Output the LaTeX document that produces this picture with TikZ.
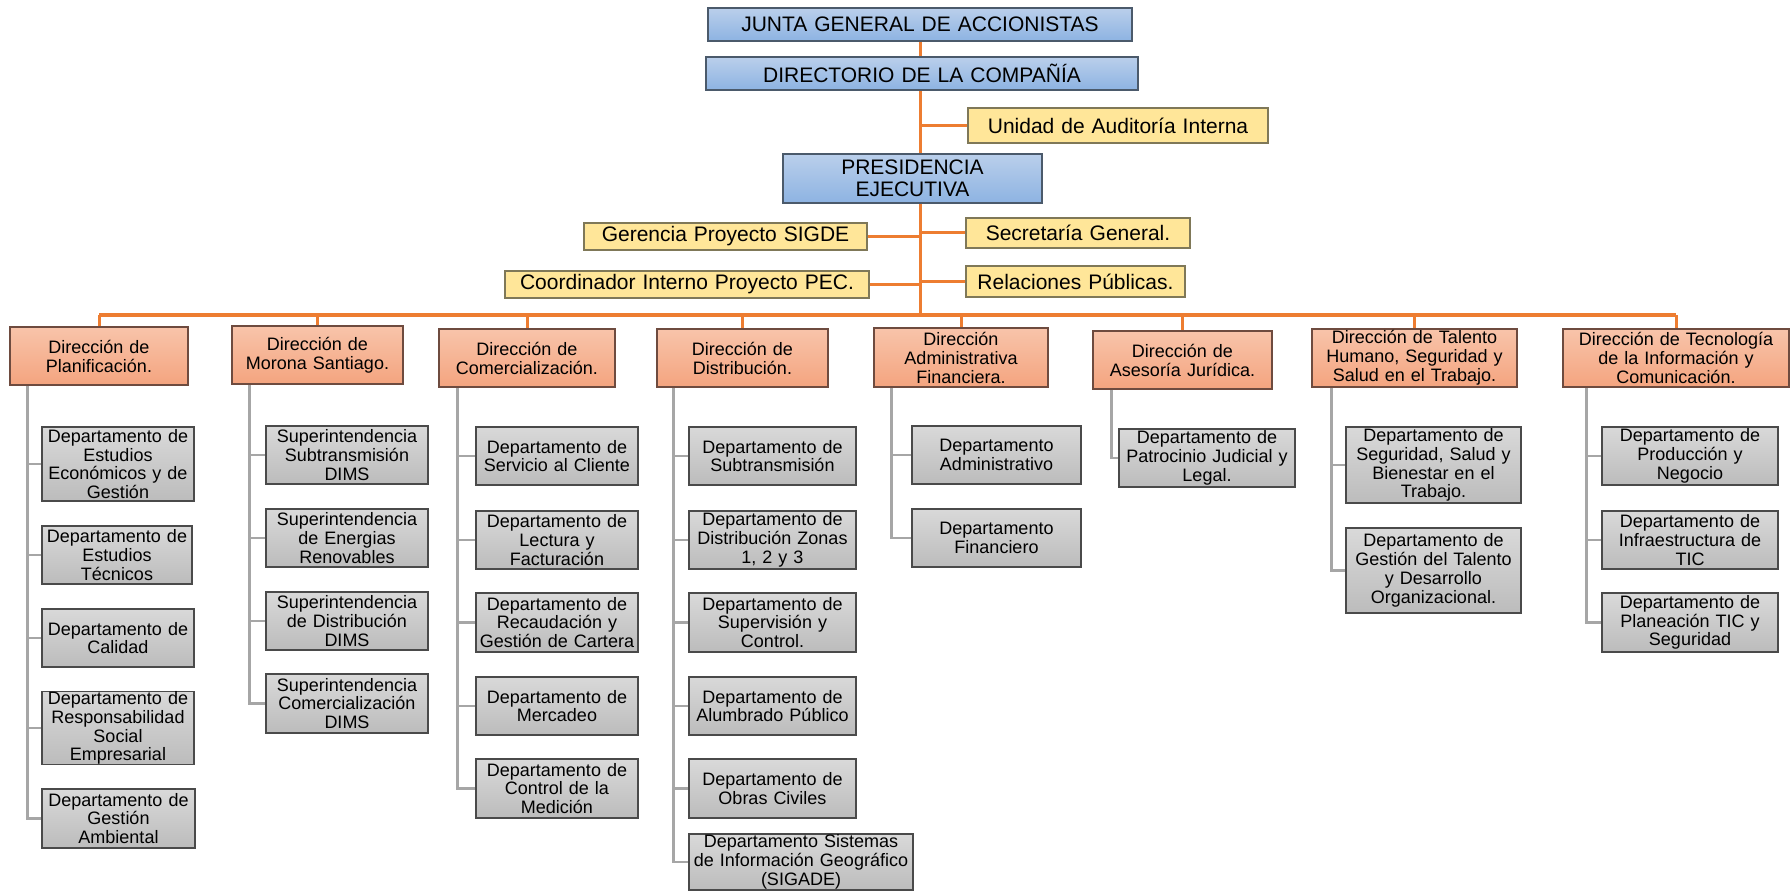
\documentclass[tikz,border=0pt]{standalone}
\usepackage{fontspec}
\setmainfont{Liberation Sans}
\usetikzlibrary{backgrounds}

\definecolor{linkorange}{HTML}{ED7D31}
\definecolor{linkgray}{HTML}{A6A6A6}
\definecolor{blueTop}{HTML}{BACFEB}
\definecolor{blueBot}{HTML}{8DB3E2}
\definecolor{blueEdge}{HTML}{4B5A6B}
\definecolor{unitFill}{HTML}{FFE699}
\definecolor{unitEdge}{HTML}{7F7858}
\definecolor{dirTop}{HTML}{F8C4AA}
\definecolor{dirBot}{HTML}{F4A47F}
\definecolor{dirEdge}{HTML}{6E4B3F}
\definecolor{deptTop}{HTML}{D9D9D9}
\definecolor{deptBot}{HTML}{BCBCBC}
\definecolor{deptEdge}{HTML}{4A4A4A}

\tikzset{
  box/.style={rectangle, inner sep=0pt, align=center, line width=0.6pt},
  boardbox/.style={box, draw=blueEdge, top color=blueTop, bottom color=blueBot,
    font=\fontsize{10.5}{10.8}\selectfont},
  unitbox/.style={box, draw=unitEdge, fill=unitFill,
    font=\fontsize{10.5}{10.8}\selectfont},
  dirbox/.style={box, draw=dirEdge, top color=dirTop, bottom color=dirBot,
    font=\fontsize{9}{9.5}\selectfont},
  deptbox/.style={box, draw=deptEdge, top color=deptTop, bottom color=deptBot,
    font=\fontsize{9}{9.4}\selectfont},
  mainlink/.style={draw=linkorange, line width=1.5pt},
  buslink/.style={draw=linkorange, line width=2pt},
  sublink/.style={draw=linkgray, line width=1.4pt},
}

% box spanning corner (x1,y1) to corner (x2,y2), given in pixel units
% #1 style, #2 name, #3 x1, #4 y1, #5 x2, #6 y2, #7 text
\newcommand\orgbox[7]{%
  \pgfmathsetmacro\obW{(#5-#3)*0.5}%
  \pgfmathsetmacro\obH{(#6-#4)*0.5}%
  \pgfmathsetmacro\obX{(#3+#5)/2}%
  \pgfmathsetmacro\obY{(#4+#6)/2}%
  \node[#1, minimum width=\obW pt, minimum height=\obH pt, text width=\obW pt]
    (#2) at (\obX,\obY) {#7};%
}

% grey elbow links from a direction box to its departments
% #1 parent, #2 offset of the vertical line from the parent's left side, #3 children
\newcommand\branch[3]{%
  \foreach \c in {#3} {\draw[sublink] ([xshift=#2]#1.south west) |- (\c.west);}%
}

\begin{document}
\begin{tikzpicture}[x=0.5pt, y=-0.5pt]
\useasboundingbox (0,0) rectangle (1790,893);

% ---- governing bodies and staff units
\orgbox{boardbox}{junta}{708}{8}{1132}{41}{JUNTA GENERAL DE ACCIONISTAS}
\orgbox{boardbox}{directorio}{706}{57}{1138}{90}{DIRECTORIO DE LA COMPAÑÍA}
\orgbox{unitbox}{auditoria}{968}{108}{1268}{143}{Unidad de Auditoría Interna}
\orgbox{boardbox}{presidencia}{783}{154}{1042}{203}{PRESIDENCIA\\EJECUTIVA}
\orgbox{unitbox}{gerencia}{584}{223}{867}{250}{Gerencia Proyecto SIGDE}
\orgbox{unitbox}{secretaria}{966}{218}{1190}{248}{Secretaría General.}
\orgbox{unitbox}{coordinador}{505}{271}{869}{298}{Coordinador Interno Proyecto PEC.}
\orgbox{unitbox}{relaciones}{966}{266}{1185}{297}{Relaciones Públicas.}

\coordinate (bus) at (920,315);

% ---- directions
\orgbox{dirbox}{plan}{10}{327}{188}{385}{Dirección de\\Planificación.}
\orgbox{dirbox}{morona}{232}{326}{403}{384}{Dirección de\\Morona Santiago.}
\orgbox{dirbox}{comerc}{439}{329}{615}{387}{Dirección de\\Comercialización.}
\orgbox{dirbox}{distrib}{657}{329}{828}{387}{Dirección de\\Distribución.}
\orgbox{dirbox}{admin}{874}{328}{1048}{387}{Dirección\\Administrativa\\Financiera.}
\orgbox{dirbox}{juridica}{1093}{331}{1272}{389}{Dirección de\\Asesoría Jurídica.}
\orgbox{dirbox}{talento}{1312}{329}{1517}{387}{Dirección de Talento\\Humano, Seguridad y\\Salud en el Trabajo.}
\orgbox{dirbox}{tecno}{1563}{329}{1789}{387}{Dirección de Tecnología\\de la Información y\\Comunicación.}

% ---- Planificación
\orgbox{deptbox}{p1}{42}{427}{194}{501}{Departamento de\\Estudios\\Económicos y de\\Gestión}
\orgbox{deptbox}{p2}{42}{526}{192}{584}{Departamento de\\Estudios\\Técnicos}
\orgbox{deptbox}{p3}{42}{609}{194}{667}{Departamento de\\Calidad}
\orgbox{deptbox}{p4}{42}{692}{194}{764}{Departamento de\\Responsabilidad\\Social\\Empresarial}
\orgbox{deptbox}{p5}{42}{789}{195}{848}{Departamento de\\Gestión\\Ambiental}

% ---- Morona Santiago
\orgbox{deptbox}{m1}{266}{426}{428}{484}{Superintendencia\\Subtransmisión\\DIMS}
\orgbox{deptbox}{m2}{266}{509}{428}{567}{Superintendencia\\de Energias\\Renovables}
\orgbox{deptbox}{m3}{266}{592}{428}{650}{Superintendencia\\de Distribución\\DIMS}
\orgbox{deptbox}{m4}{266}{674}{428}{733}{Superintendencia\\Comercialización\\DIMS}

% ---- Comercialización
\orgbox{deptbox}{c1}{476}{427}{638}{485}{Departamento de\\Servicio al Cliente}
\orgbox{deptbox}{c2}{476}{511}{638}{569}{Departamento de\\Lectura y\\Facturación}
\orgbox{deptbox}{c3}{476}{593}{638}{652}{Departamento de\\Recaudación y\\Gestión de Cartera}
\orgbox{deptbox}{c4}{476}{677}{638}{735}{Departamento de\\Mercadeo}
\orgbox{deptbox}{c5}{476}{759}{638}{818}{Departamento de\\Control de la\\Medición}

% ---- Distribución
\orgbox{deptbox}{d1}{689}{427}{856}{485}{Departamento de\\Subtransmisión}
\orgbox{deptbox}{d2}{689}{511}{856}{569}{Departamento de\\Distribución Zonas\\1, 2 y 3}
\orgbox{deptbox}{d3}{689}{593}{856}{652}{Departamento de\\Supervisión y\\Control.}
\orgbox{deptbox}{d4}{689}{677}{856}{735}{Departamento de\\Alumbrado Público}
\orgbox{deptbox}{d5}{689}{759}{856}{818}{Departamento de\\Obras Civiles}
\orgbox{deptbox}{d6}{689}{834}{913}{890}{Departamento Sistemas\\de Información Geográfico\\(SIGADE)}

% ---- Administrativa Financiera
\orgbox{deptbox}{a1}{912}{426}{1081}{484}{Departamento\\Administrativo}
\orgbox{deptbox}{a2}{912}{509}{1081}{567}{Departamento\\Financiero}

% ---- Asesoría Jurídica
\orgbox{deptbox}{j1}{1119}{429}{1295}{487}{Departamento de\\Patrocinio Judicial y\\Legal.}

% ---- Talento Humano
\orgbox{deptbox}{t1}{1346}{427}{1521}{503}{Departamento de\\Seguridad, Salud y\\Bienestar en el\\Trabajo.}
\orgbox{deptbox}{t2}{1346}{528}{1521}{613}{Departamento de\\Gestión del Talento\\y Desarrollo\\Organizacional.}

% ---- Tecnología
\orgbox{deptbox}{k1}{1602}{427}{1778}{485}{Departamento de\\Producción y\\Negocio}
\orgbox{deptbox}{k2}{1602}{511}{1778}{569}{Departamento de\\Infraestructura de\\TIC}
\orgbox{deptbox}{k3}{1602}{593}{1778}{652}{Departamento de\\Planeación TIC y\\Seguridad}

\begin{scope}[on background layer]
  % main spine and staff units
  \draw[mainlink] (junta.south) -- (junta.south |- bus);
  \draw[mainlink] (auditoria.west) -- (auditoria.west -| junta.south);
  \draw[mainlink] (secretaria.west) -- (secretaria.west -| junta.south);
  \draw[mainlink] (relaciones.west) -- (relaciones.west -| junta.south);
  \draw[mainlink] (gerencia.east) -- (gerencia.east -| junta.south);
  \draw[mainlink] (coordinador.east) -- (coordinador.east -| junta.south);
  % bus to the directions
  \draw[buslink] (plan.north |- bus) -- (tecno.north |- bus);
  \foreach \d in {plan,morona,comerc,distrib,admin,juridica,talento,tecno}
    {\draw[mainlink] (\d.north) -- (\d.north |- bus);}
  % departments
  \branch{plan}{9pt}{p1,p2,p3,p4,p5}
  \branch{morona}{9pt}{m1,m2,m3,m4}
  \branch{comerc}{9.5pt}{c1,c2,c3,c4,c5}
  \branch{distrib}{8.5pt}{d1,d2,d3,d4,d5,d6}
  \branch{admin}{9pt}{a1,a2}
  \branch{juridica}{9.5pt}{j1}
  \branch{talento}{10pt}{t1,t2}
  \branch{tecno}{12pt}{k1,k2,k3}
\end{scope}
\end{tikzpicture}
\end{document}
